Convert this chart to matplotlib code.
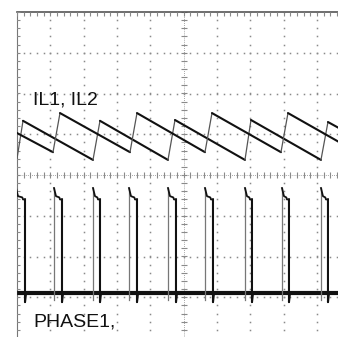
import numpy as np
import matplotlib
matplotlib.use("Agg")
import matplotlib.pyplot as plt

# scope screen in divisions: 10 across, 8 down, centre at (5, 0)
# inductor currents (two phases), vertex times in div and levels in div
il_b_t = [0.00, 0.18, 2.28, 2.49, 4.53, 4.74, 6.84, 7.02, 9.12, 9.33, 11.4]
il_b_v = [0.40, 1.33, 0.37, 1.33, 0.37, 1.35, 0.37, 1.35, 0.37, 1.30, 0.37]
il_a_t = [0.00, 1.08, 1.29, 3.39, 3.60, 5.64, 5.85, 7.92, 8.13, 10.2]
il_a_v = [1.03, 0.56, 1.52, 0.56, 1.52, 0.56, 1.52, 0.56, 1.52, 0.56]

# switch-node pulses: rising and falling edge times in div
ph_b_rise = [-0.03, 2.28, 4.53, 6.84, 9.12]
ph_b_fall = [0.24, 2.49, 4.77, 7.05, 9.33]
ph_a_rise = [1.11, 3.36, 5.64, 7.95]
ph_a_fall = [1.35, 3.60, 5.88, 8.16]
ph_low = -2.90
ph_high = -0.52
ph_over = -0.32
ph_under = -3.12

labels = ["IL1, IL2", "PHASE1,"]

fig = plt.figure(figsize=(3.38, 3.37), dpi=100)
ax = fig.add_axes([17 / 338, -1 / 337, 333.3 / 338, 326 / 337])
ax.set_xlim(0, 10)
ax.set_ylim(-4, 4)
ax.axis("off")

grid_c = "#8a8a8a"
minor_x = np.arange(0, 10.01, 0.2)
minor_y = np.arange(-4, 4.01, 0.2)

# dotted graticule
for gx in range(1, 10):
    if gx == 5:
        continue
    ax.plot(np.full_like(minor_y, gx), minor_y, ls="none", marker="s", ms=1.1,
            mec="none", mfc=grid_c)
for gy in range(-3, 4):
    if gy == 0:
        continue
    ax.plot(minor_x, np.full_like(minor_x, gy), ls="none", marker="s", ms=1.1,
            mec="none", mfc=grid_c)

# centre lines with small ticks
ax.plot([5, 5], [-4, 4], color=grid_c, lw=0.6, ls=(0, (1, 1.5)))
ax.plot([0, 10], [0, 0], color=grid_c, lw=0.6, ls=(0, (1, 1.5)))
ax.plot(np.full_like(minor_y, 5), minor_y, ls="none", marker="_", ms=4,
        mew=0.8, color=grid_c)
ax.plot(minor_x, np.zeros_like(minor_x), ls="none", marker="|", ms=4,
        mew=0.8, color=grid_c)

# border with ticks
ax.plot([0, 10], [4, 4], color="#555555", lw=1.2, clip_on=False)
ax.plot([0, 0], [-4, 4], color="#777777", lw=0.8, clip_on=False)
ax.plot(minor_x, np.full_like(minor_x, 3.96), ls="none", marker="|", ms=3,
        mew=0.8, color=grid_c)
ax.plot(np.full_like(minor_y, 0.04), minor_y, ls="none", marker="_", ms=3,
        mew=0.8, color=grid_c)


def draw_saw(t, v):
    for i in range(len(t) - 1):
        rising = v[i + 1] > v[i]
        ax.plot(t[i:i + 2], v[i:i + 2],
                color="#555555" if rising else "#111111",
                lw=0.9 if rising else 1.5, solid_capstyle="round")


draw_saw(il_b_t, il_b_v)
draw_saw(il_a_t, il_a_v)

# baseline of switch node
ax.plot([0, 10], [ph_low, ph_low], color="#111111", lw=3.0)


def draw_pulses(rise, fall):
    for r, f in zip(rise, fall):
        # fast rising edge shows faint
        ax.plot([r, r], [ph_under + 0.05, ph_over], color="#777777", lw=0.9)
        top_t = [r, r + 0.06, f - 0.08, f - 0.06, f]
        top_v = [ph_over, ph_high, ph_high - 0.03, ph_high - 0.08, ph_high - 0.08]
        ax.plot(top_t, top_v, color="#111111", lw=1.3)
        ax.plot([f, f, f + 0.03], [ph_high - 0.08, ph_under, ph_low],
                color="#111111", lw=1.5)


draw_pulses(ph_b_rise, ph_b_fall)
draw_pulses(ph_a_rise, ph_a_fall)

ax.text(0.48, 1.74, labels[0], fontsize=14, family="Liberation Sans",
        color="#111111", va="baseline", ha="left")
ax.text(0.48, -3.73, labels[1], fontsize=14, family="Liberation Sans",
        color="#111111", va="baseline", ha="left")

fig.savefig("out.png", dpi=100, facecolor="white")
